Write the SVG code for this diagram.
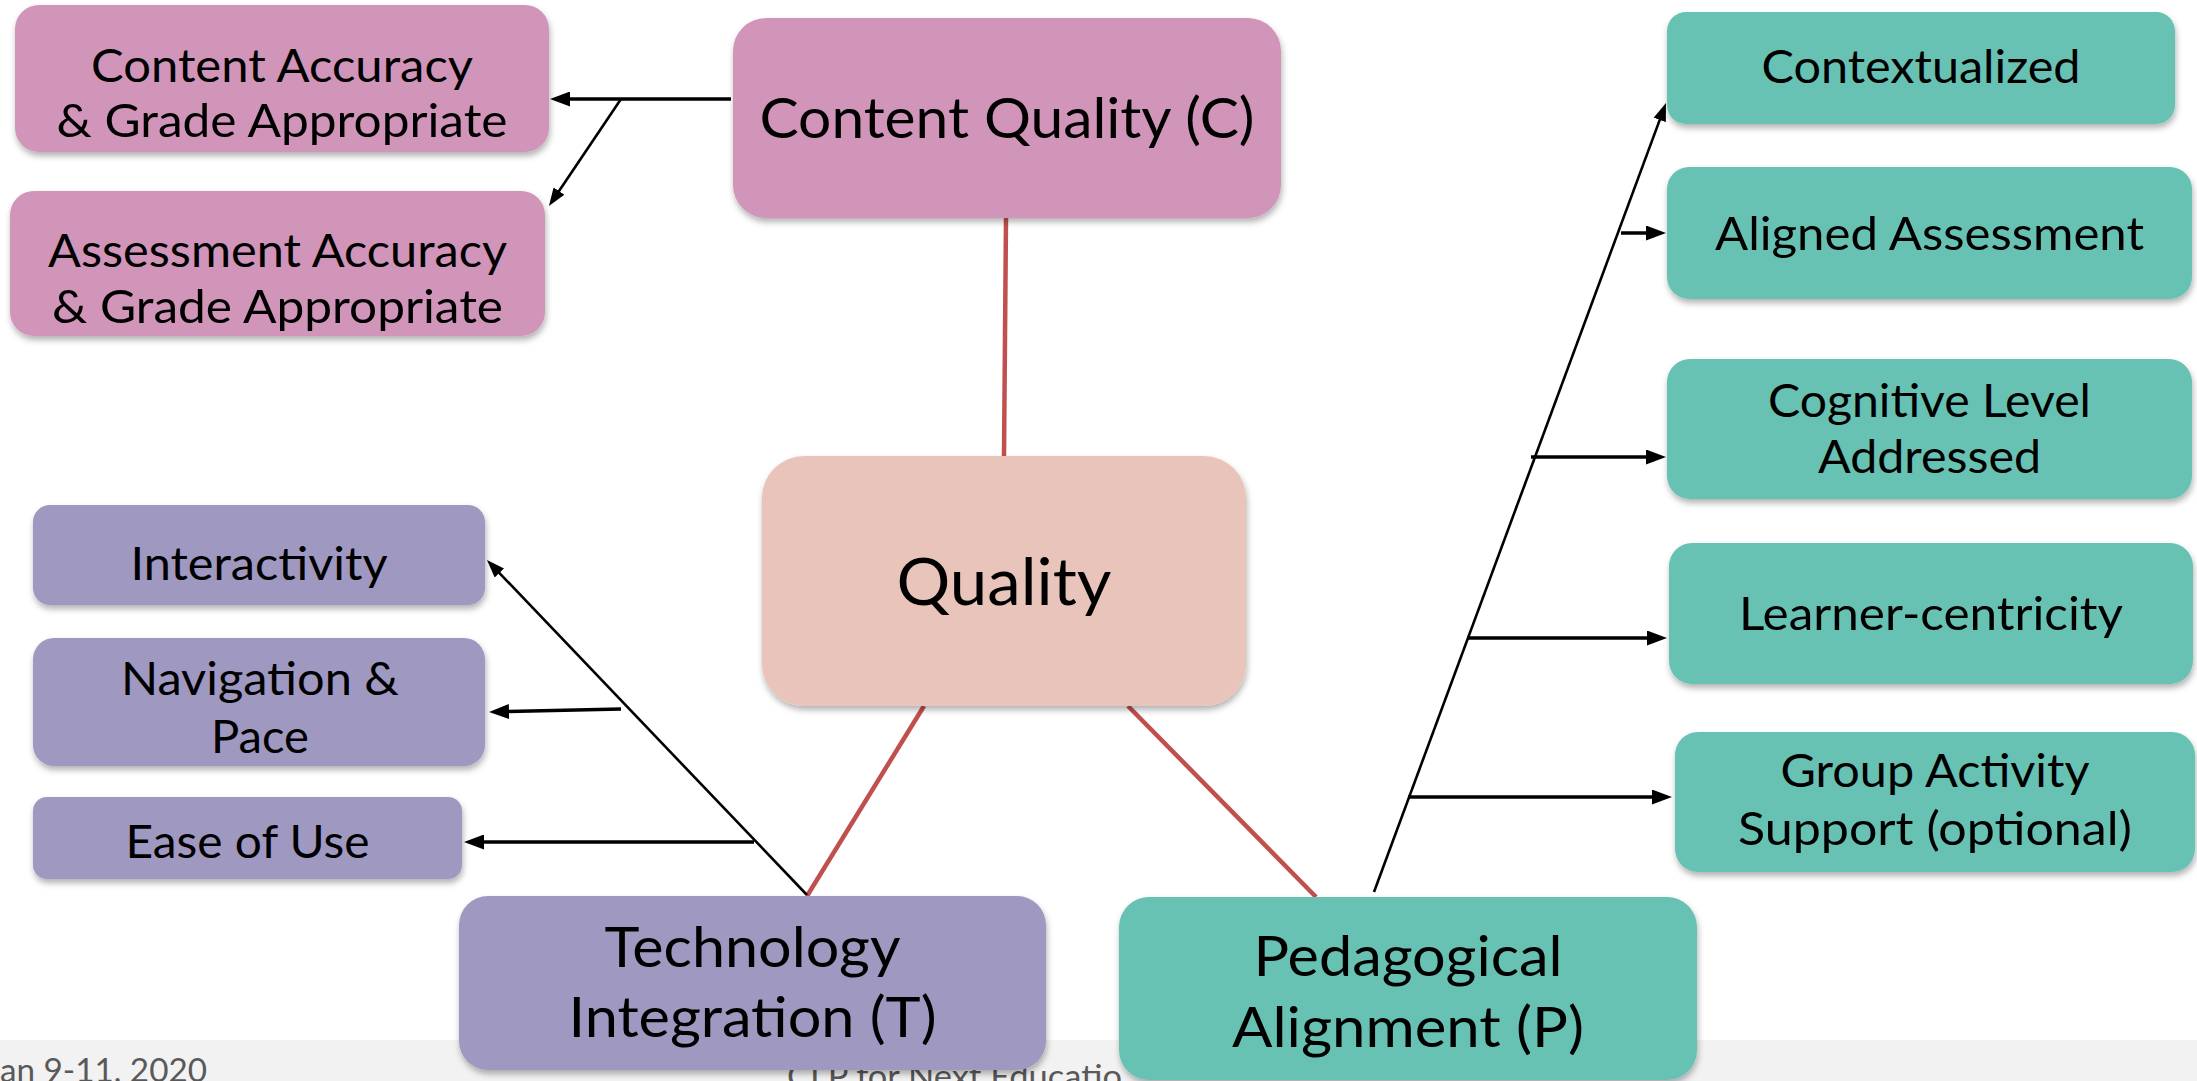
<svg xmlns="http://www.w3.org/2000/svg" width="2197" height="1081" viewBox="0 0 2197 1081">
<style>
.t{font-family:Lato,'Open Sans','Liberation Sans',sans-serif;fill:#000;text-anchor:middle}
.s{font-size:47px}
.m{font-size:56.5px}
.l{font-size:65.5px}
.foot{font-family:Lato,'Open Sans','Liberation Sans',sans-serif;font-size:33px;fill:#595959}
.pink{fill:#D195B9}
.qual{fill:#E9C4BA}
.lav{fill:#9F98C0}
.teal{fill:#67C2B4}
.box{filter:url(#sh)}
.red{stroke:#C0504D;stroke-width:4.5;fill:none}
.thick{stroke:#000;stroke-width:3.5;fill:none;marker-end:url(#ah)}
.thin{stroke:#000;stroke-width:2.6;fill:none;marker-end:url(#ahs)}
</style>
<defs>
<filter id="sh" x="-5%" y="-10%" width="112%" height="130%">
<feDropShadow dx="1" dy="4" stdDeviation="3" flood-color="#000" flood-opacity="0.3"/>
</filter>
<marker id="ah" markerUnits="userSpaceOnUse" markerWidth="20" markerHeight="15" refX="14" refY="7.5" orient="auto" viewBox="0 0 20 15">
<path d="M0,0 L20,7.5 L0,15 z" fill="#000"/>
</marker>
<marker id="ahs" markerUnits="userSpaceOnUse" markerWidth="18" markerHeight="13" refX="12" refY="6.5" orient="auto" viewBox="0 0 18 13">
<path d="M0,0 L18,6.5 L0,13 z" fill="#000"/>
</marker>
</defs>
<rect x="0" y="0" width="2197" height="1081" fill="#FFFFFF"/>
<g id="footer">
<rect x="0" y="1040" width="2197" height="41" fill="#F2F2F2"/>
<text class="foot" x="0" y="1082" textLength="207" lengthAdjust="spacingAndGlyphs">an 9-11, 2020</text>
<text class="foot" x="787" y="1088" textLength="335" lengthAdjust="spacingAndGlyphs">CLP for Next Educatio</text>
</g>
<g id="connectors">
<line class="red" x1="1006" y1="218" x2="1004" y2="456"/>
<line class="red" x1="924" y1="706" x2="807" y2="896"/>
<line class="red" x1="1128" y1="706" x2="1316" y2="897"/>
<line class="thick" x1="731" y1="99" x2="556" y2="99"/>
<line class="thin" x1="621" y1="99" x2="552.3" y2="201"/>
<line class="thin" x1="807" y1="895" x2="491.1" y2="564.3"/>
<line class="thick" x1="621" y1="709" x2="495" y2="711.9"/>
<line class="thick" x1="754" y1="842" x2="470" y2="842"/>
<line class="thin" x1="1374" y1="892" x2="1663.9" y2="108.6"/>
<line class="thick" x1="1621" y1="233" x2="1660" y2="233"/>
<line class="thick" x1="1531" y1="457" x2="1660" y2="457"/>
<line class="thick" x1="1467" y1="638" x2="1661" y2="638"/>
<line class="thick" x1="1408" y1="797" x2="1666" y2="797"/>
</g>
<g id="content-accuracy">
<rect class="pink box" x="15" y="5" width="534" height="147" rx="24"/>
<text class="t s" x="282" y="82" textLength="382" lengthAdjust="spacingAndGlyphs">Content Accuracy</text>
<text class="t s" x="282" y="137" textLength="451" lengthAdjust="spacingAndGlyphs">&amp; Grade Appropriate</text>
</g>
<g id="assessment-accuracy">
<rect class="pink box" x="10" y="191" width="535" height="145" rx="24"/>
<text class="t s" x="277.5" y="267" textLength="459" lengthAdjust="spacingAndGlyphs">Assessment Accuracy</text>
<text class="t s" x="277.5" y="323" textLength="451" lengthAdjust="spacingAndGlyphs">&amp; Grade Appropriate</text>
</g>
<g id="content-quality">
<rect class="pink box" x="733" y="18" width="548" height="200" rx="33"/>
<text class="t m" x="1007" y="138" textLength="495" lengthAdjust="spacingAndGlyphs">Content Quality (C)</text>
</g>
<g id="quality">
<rect class="qual box" x="762" y="456" width="484" height="250" rx="42"/>
<text class="t l" x="1004" y="605" textLength="215" lengthAdjust="spacingAndGlyphs">Quality</text>
</g>
<g id="technology-integration">
<rect class="lav box" x="459" y="896" width="587" height="174" rx="29"/>
<text class="t m" x="752.5" y="967" textLength="296" lengthAdjust="spacingAndGlyphs">Technology</text>
<text class="t m" x="752.5" y="1037" textLength="368" lengthAdjust="spacingAndGlyphs">Integration (T)</text>
</g>
<g id="pedagogical-alignment">
<rect class="teal box" x="1119" y="897" width="578" height="183" rx="30"/>
<text class="t m" x="1408" y="976" textLength="309" lengthAdjust="spacingAndGlyphs">Pedagogical</text>
<text class="t m" x="1408" y="1047" textLength="352" lengthAdjust="spacingAndGlyphs">Alignment (P)</text>
</g>
<g id="interactivity">
<rect class="lav box" x="33" y="505" width="452" height="100" rx="17"/>
<text class="t s" x="259" y="580" textLength="257" lengthAdjust="spacingAndGlyphs">Interactivity</text>
</g>
<g id="navigation-pace">
<rect class="lav box" x="33" y="638" width="452" height="128" rx="21"/>
<text class="t s" x="260" y="695" textLength="278" lengthAdjust="spacingAndGlyphs">Navigation &amp;</text>
<text class="t s" x="260" y="753" textLength="98" lengthAdjust="spacingAndGlyphs">Pace</text>
</g>
<g id="ease-of-use">
<rect class="lav box" x="33" y="797" width="429" height="82" rx="14"/>
<text class="t s" x="247.5" y="858" textLength="244" lengthAdjust="spacingAndGlyphs">Ease of Use</text>
</g>
<g id="contextualized">
<rect class="teal box" x="1667" y="12" width="508" height="112" rx="19"/>
<text class="t s" x="1921" y="83" textLength="319" lengthAdjust="spacingAndGlyphs">Contextualized</text>
</g>
<g id="aligned-assessment">
<rect class="teal box" x="1667" y="167" width="525" height="132" rx="22"/>
<text class="t s" x="1929.5" y="250" textLength="429" lengthAdjust="spacingAndGlyphs">Aligned Assessment</text>
</g>
<g id="cognitive-level">
<rect class="teal box" x="1667" y="359" width="525" height="140" rx="23"/>
<text class="t s" x="1929.5" y="417" textLength="323" lengthAdjust="spacingAndGlyphs">Cognitive Level</text>
<text class="t s" x="1929.5" y="473" textLength="223" lengthAdjust="spacingAndGlyphs">Addressed</text>
</g>
<g id="learner-centricity">
<rect class="teal box" x="1669" y="543" width="524" height="141" rx="23"/>
<text class="t s" x="1931" y="630" textLength="384" lengthAdjust="spacingAndGlyphs">Learner-centricity</text>
</g>
<g id="group-activity">
<rect class="teal box" x="1675" y="732" width="520" height="140" rx="23"/>
<text class="t s" x="1935" y="787" textLength="309" lengthAdjust="spacingAndGlyphs">Group Activity</text>
<text class="t s" x="1935" y="845" textLength="394" lengthAdjust="spacingAndGlyphs">Support (optional)</text>
</g>
</svg>
